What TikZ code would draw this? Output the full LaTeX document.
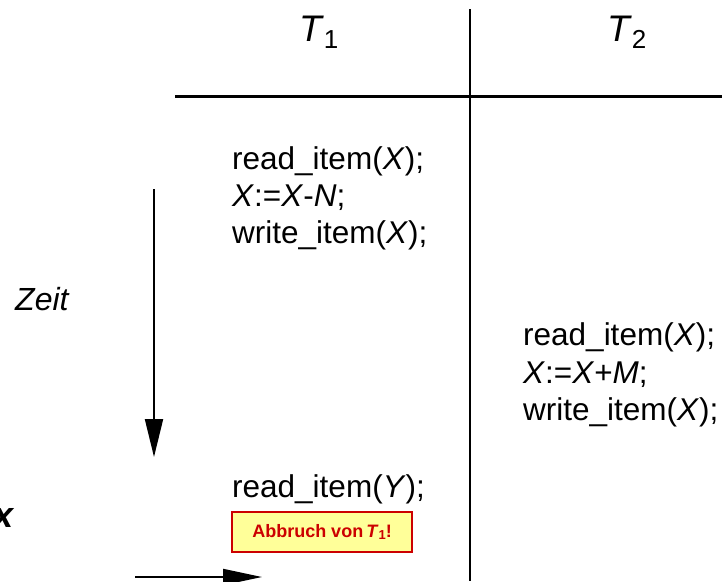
\documentclass[tikz,border=0pt]{standalone}
\usepackage{fontspec}
\setmainfont{Liberation Sans}
\usetikzlibrary{arrows.meta}
\definecolor{abortred}{RGB}{204,0,0}
\definecolor{abortfill}{RGB}{255,255,153}
\begin{document}
\begin{tikzpicture}[x=1pt,y=-1pt,
  code/.style={anchor=base west,inner sep=0pt,font=\fontsize{31.5}{37}\selectfont},
  head/.style={anchor=base west,inner sep=0pt,font=\fontsize{37}{40}\selectfont},
  rule/.style={line width=3pt},
  divider/.style={line width=2pt},
  timearrow/.style={line width=2pt,-{Triangle[length=38pt,width=18pt]}},
  abortbox/.style={draw=abortred,fill=abortfill,line width=2.5pt,inner sep=0pt,
    minimum width=180pt,minimum height=40pt,text=abortred,
    font=\fontsize{18}{20}\selectfont\bfseries}]
\useasboundingbox (0,0) rectangle (722,581);

% table frame
\coordinate (ruleL) at (175,96);
\coordinate (ruleR) at (722,96);
\coordinate (divT) at (470,9);
\coordinate (divB) at (470,581);
\draw[rule] (ruleL) -- (ruleR);
\draw[divider] (divT) -- (divB);

% column heads
\node[head] (t1) at (299,41) {\textit{T}\raisebox{-7pt}{\fontsize{26}{26}\selectfont 1}};
\node[head] (t2) at (607,41) {\textit{T}\raisebox{-7pt}{\fontsize{26}{26}\selectfont 2}};

% transaction T1
\node[code] (a1) at (232,169) {read\_item(\textit{X});};
\node[code] (a2) at (232,206) {\textit{X}:=\textit{X}-\textit{N};};
\node[code] (a3) at (232,243) {write\_item(\textit{X});};
\node[code] (a4) at (232,497) {read\_item(\textit{Y});};

% transaction T2
\node[code] (b1) at (523,345) {read\_item(\textit{X});};
\node[code] (b2) at (523,383) {\textit{X}:=\textit{X}+\textit{M};};
\node[code] (b3) at (523,420) {write\_item(\textit{X});};

% abort of T1
\node[abortbox] (abort) at (322,532) {Abbruch von\,\textit{T}\raisebox{-2pt}{\fontsize{13}{13}\selectfont 1}!};

% time axis
\node[anchor=base west,inner sep=0pt,font=\fontsize{32}{34}\selectfont\itshape] (zeit) at (15,310) {Zeit};
\coordinate (timeTop) at (154,189);
\coordinate (timeEnd) at (154,457);
\draw[timearrow] (timeTop) -- (timeEnd);

% failure marker
\begin{scope}
\clip (0,0) rectangle (722,581);
\node[anchor=base east,inner sep=0pt,font=\fontsize{36}{38}\selectfont\bfseries\itshape] (fail) at (14,527) {x};
\end{scope}
\coordinate (failStart) at (135,577);
\coordinate (failEnd) at (262,577);
\draw[timearrow,-{Triangle[length=39pt,width=16pt]}] (failStart) -- (failEnd);
\end{tikzpicture}
\end{document}
